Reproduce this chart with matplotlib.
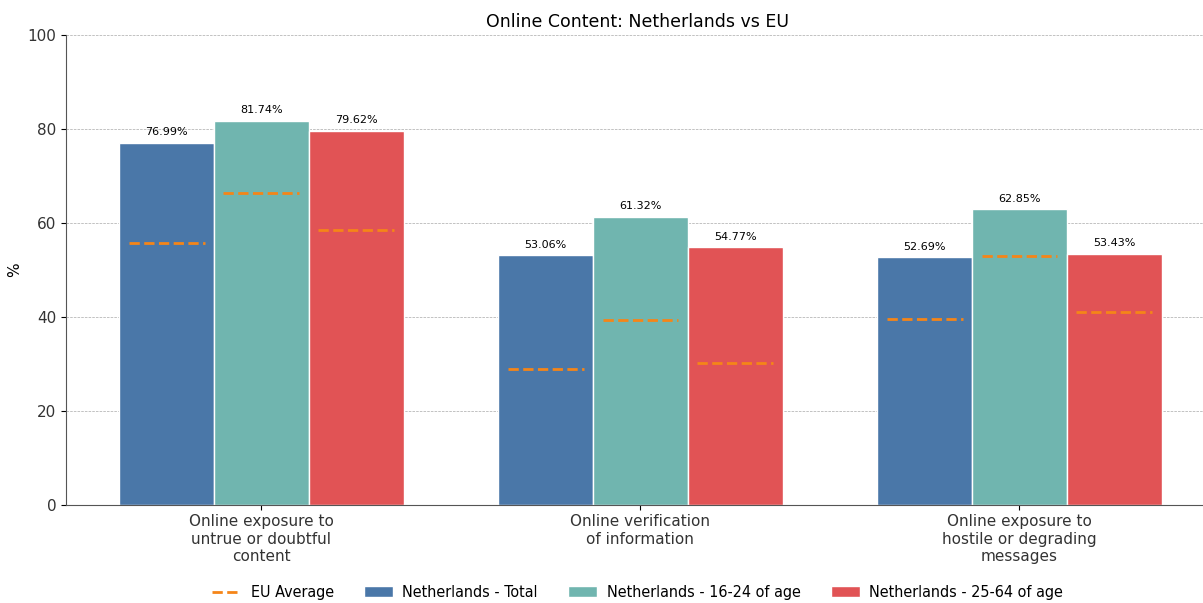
import numpy as np
import matplotlib.pyplot as plt
from matplotlib.lines import Line2D
from matplotlib import font_manager

categories = ["Online exposure to\nuntrue or doubtful\ncontent",
              "Online verification\nof information",
              "Online exposure to\nhostile or degrading\nmessages"]
series = ["Netherlands - Total", "Netherlands - 16-24 of age", "Netherlands - 25-64 of age"]
nl_values = [
    [76.99, 53.06, 52.69],
    [81.74, 61.32, 62.85],
    [79.62, 54.77, 53.43],
]
eu_values = [
    [55.7, 28.9, 39.6],
    [66.4, 39.4, 53.0],
    [58.5, 30.2, 41.1],
]
colors = ["#4a77a8", "#70b5af", "#e15355"]
eu_color = "#f58518"

fig = plt.figure(figsize=(12.03, 6.03), dpi=100)
ax = fig.add_axes([0.055, 0.163, 0.95, 0.779])

x = np.arange(len(categories))
width = 0.25
for i, (name, vals, eu) in enumerate(zip(series, nl_values, eu_values)):
    pos = x + (i - 1) * width
    bars = ax.bar(pos, vals, width, color=colors[i], edgecolor="white",
                  linewidth=1, label=name, zorder=2)
    for b, v in zip(bars, vals):
        ax.text(b.get_x() + b.get_width() / 2, v + 1.2, f"{v:.2f}%",
                ha="center", va="bottom", fontsize=8)
    for p, e in zip(pos, eu):
        ax.plot([p - 0.1, p + 0.1], [e, e], color=eu_color, linestyle="--",
                linewidth=2, zorder=3)

ax.set_xlim(-0.515, 2.5)
ax.set_ylim(0, 100)
ax.set_xticks(x)
ax.set_xticklabels(categories, fontsize=11, color="#333333")
ax.tick_params(axis="y", labelsize=11, labelcolor="#333333")
ax.set_ylabel("%", fontsize=11)
ax.set_title("Online Content: Netherlands vs EU", fontsize=12.5)
ax.grid(axis="y", linestyle="--", linewidth=0.5, color="#aaaaaa", zorder=0)
ax.set_axisbelow(True)
ax.spines["top"].set_visible(False)
ax.spines["right"].set_visible(False)
for s in ("left", "bottom"):
    ax.spines[s].set_color("#555555")

# narrow face for the legend row
names = {f.name for f in font_manager.fontManager.ttflist}
narrow = "Liberation Sans Narrow" if "Liberation Sans Narrow" in names else "DejaVu Sans"
legend_font = font_manager.FontProperties(family=narrow, stretch="condensed", size=11.5)

handles, labels = ax.get_legend_handles_labels()
eu_handle = Line2D([0], [0], color=eu_color, linestyle="--", linewidth=2)
ax.legend([eu_handle] + handles, ["EU Average"] + labels, ncol=4,
          loc="upper center", bbox_to_anchor=(0.5, -0.141), frameon=False,
          columnspacing=1.9, handlelength=1.8, handletextpad=0.6,
          prop=legend_font)

fig.savefig("out.png", dpi=100)
